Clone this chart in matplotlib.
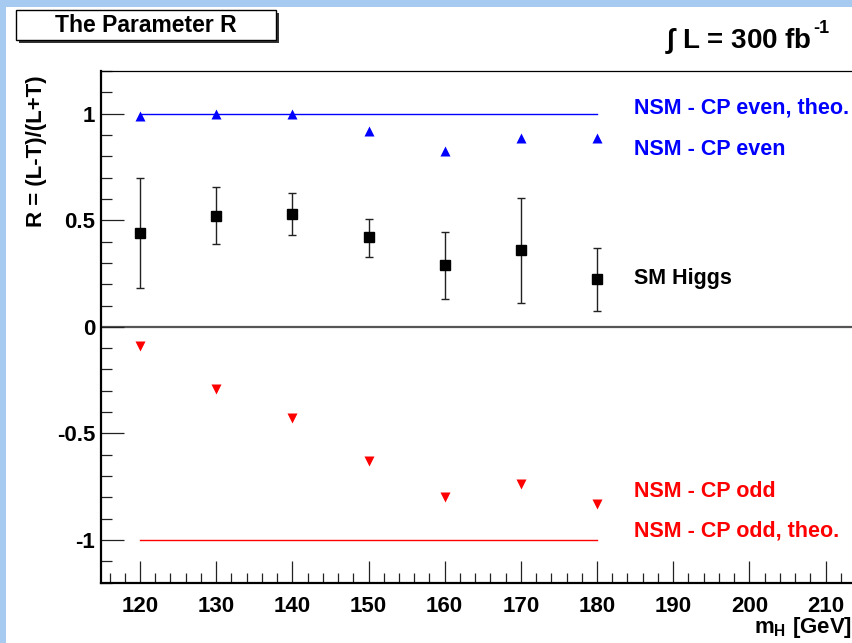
import matplotlib
matplotlib.use('Agg')
import matplotlib.pyplot as plt
from matplotlib.patches import Rectangle
from matplotlib.ticker import MultipleLocator

plt.rcParams['font.family'] = ['Liberation Sans', 'DejaVu Sans']
plt.rcParams['font.weight'] = 'bold'
plt.rcParams['mathtext.fontset'] = 'custom'
plt.rcParams['mathtext.rm'] = 'Liberation Sans:bold'
plt.rcParams['mathtext.bf'] = 'Liberation Sans:bold'
plt.rcParams['mathtext.it'] = 'Liberation Sans:bold'

# Higgs masses (GeV)
mass = [120, 130, 140, 150, 160, 170, 180]

# SM Higgs: R with asymmetric errors
sm_r = [0.44, 0.52, 0.53, 0.42, 0.29, 0.36, 0.225]
sm_up = [0.70, 0.657, 0.628, 0.508, 0.446, 0.605, 0.37]
sm_lo = [0.18, 0.388, 0.433, 0.327, 0.13, 0.11, 0.075]

# non-SM CP even / odd
cp_even = [0.99, 0.997, 0.997, 0.92, 0.826, 0.886, 0.888]
cp_odd = [-0.09, -0.293, -0.427, -0.631, -0.799, -0.735, -0.829]

# theoretical values
theo_mass = [120, 180]
theo_even = [1, 1]
theo_odd = [-1, -1]

y_ticks = [-1, -0.5, 0, 0.5, 1]
y_tick_labels = ['-1', '-0.5', '0', '0.5', '1']
x_ticks = [120, 130, 140, 150, 160, 170, 180, 190, 200, 210]
x_tick_labels = ['120', '130', '140', '150', '160', '170', '180', '190', '200', '210']

W, H = 853, 643
fig = plt.figure(figsize=(W / 100, H / 100), dpi=100)
fig.patch.set_facecolor('#a6caf0')


def fx(x):
    return x / W


def fy(y):
    return 1 - y / H


# white pad area (blue frame only visible top/left)
fig.patches.append(Rectangle((fx(6), 0), 1, fy(7), transform=fig.transFigure,
                             facecolor='white', edgecolor='none', zorder=-10))

ax = fig.add_axes([fx(100.7), fy(582.7), (863.6 - 100.7) / W, (582.7 - 71) / H])
ax.set_zorder(5)
ax.set_xlim(114.84, 215)
ax.set_ylim(-1.2, 1.2)
ax.set_facecolor('white')

for side in ['left', 'bottom']:
    ax.spines[side].set_linewidth(1.6)
ax.spines['top'].set_linewidth(0.9)
ax.spines['right'].set_visible(False)

ax.set_xticks(x_ticks)
ax.set_xticklabels(x_tick_labels)
ax.set_yticks(y_ticks)
ax.set_yticklabels(y_tick_labels)
ax.xaxis.set_minor_locator(MultipleLocator(2))
ax.yaxis.set_minor_locator(MultipleLocator(0.1))
ax.tick_params(axis='both', which='both', direction='in', top=False, right=False,
               width=0.9, color='#222222', labelsize=16)
ax.tick_params(axis='y', which='major', length=16.5, pad=4)
ax.tick_params(axis='y', which='minor', length=8)
ax.tick_params(axis='x', which='major', length=16, pad=9.5)
ax.tick_params(axis='x', which='minor', length=7.5)
for lab in ax.get_xticklabels() + ax.get_yticklabels():
    lab.set_fontweight('bold')

# zero line
ax.axhline(0, color='#555555', lw=1.6, zorder=1)

# theory lines
ax.plot(theo_mass, theo_even, color='#0000ff', lw=1.0, zorder=2)
ax.plot(theo_mass, theo_odd, color='#ff0000', lw=1.0, zorder=2)

# SM Higgs with errors
err_lo = [r - lo for r, lo in zip(sm_r, sm_lo)]
err_up = [up - r for r, up in zip(sm_r, sm_up)]
ax.errorbar(mass, sm_r, yerr=[err_lo, err_up], fmt='s', color='black',
            ms=7.5, ecolor='#222222', elinewidth=1.0, capsize=3, capthick=1.0,
            zorder=3)

ax.plot(mass, cp_even, '^', color='#0000ff', ms=7.5, mec='none', zorder=3)
ax.plot(mass, cp_odd, 'v', color='#ff0000', ms=7.5, mec='none', zorder=3)

# labels next to the series
lx = 184.85
ax.text(lx, 1.027, 'NSM - CP even, theo.', color='#0000ff', fontsize=15.5,
        fontweight='bold', va='center', ha='left')
ax.text(lx, 0.83, 'NSM - CP even', color='#0000ff', fontsize=15.5,
        fontweight='bold', va='center', ha='left')
ax.text(lx, 0.229, 'SM Higgs', color='black', fontsize=15.5,
        fontweight='bold', va='center', ha='left')
ax.text(lx, -0.771, 'NSM - CP odd', color='#ff0000', fontsize=15.5,
        fontweight='bold', va='center', ha='left')
ax.text(lx, -0.958, 'NSM - CP odd, theo.', color='#ff0000', fontsize=15.5,
        fontweight='bold', va='center', ha='left')

# axis titles
fig.text(fx(37), fy(75), 'R = (L-T)/(L+T)', rotation=90, ha='center', va='top',
         fontsize=16, fontweight='bold')
fig.text(fx(852), fy(628), r'$\mathregular{m_H}$ [GeV]', ha='right', va='center',
         fontsize=16, fontweight='bold', zorder=6)

# title box with shadow
fig.patches.append(Rectangle((fx(19), fy(43)), (276 - 16) / W, 30 / H,
                             transform=fig.transFigure, facecolor='#333333',
                             edgecolor='none', zorder=1))
fig.patches.append(Rectangle((fx(16), fy(40)), (276 - 16) / W, 30 / H,
                             transform=fig.transFigure, facecolor='white',
                             edgecolor='black', lw=1.0, zorder=2))
fig.text(fx(146), fy(25), 'The Parameter R', ha='center', va='center',
         fontsize=16.5, fontweight='bold', zorder=3)

# luminosity
fig.text(fx(812), fy(48), r'$\int$ L = 300 fb', ha='right',
         va='baseline', fontsize=20, fontweight='bold')
fig.text(fx(813), fy(33), '-1', ha='left', va='baseline',
         fontsize=13, fontweight='bold')

fig.savefig('out.png', dpi=100, facecolor=fig.get_facecolor())
